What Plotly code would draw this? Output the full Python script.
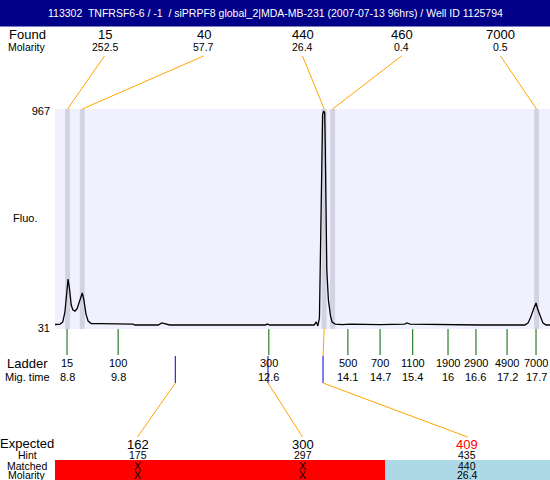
import plotly.graph_objects as go

# ---------------- data ----------------
title_text = "113302  TNFRSF6-6 / -1  / siPRPF8 global_2|MDA-MB-231 (2007-07-13 96hrs) / Well ID 1125794"

# electropherogram (migration time, fluorescence)
mig_time = [8.57, 8.67, 8.72, 8.76, 8.80, 8.82, 8.85, 8.88, 8.91, 8.95, 8.99, 9.03, 9.07, 9.09,
            9.12, 9.16, 9.20, 9.26, 9.43, 10.05, 10.09, 10.53, 10.60, 10.66, 10.75, 12.56, 12.60,
            12.65, 13.49, 13.53, 13.56, 13.59, 13.61, 13.63, 13.65, 13.67, 13.69, 13.70, 13.72,
            13.73, 13.76, 13.80, 13.83, 13.89, 14.02, 14.17, 14.74, 15.21, 15.25, 15.31, 16.64,
            17.49, 17.55, 17.60, 17.66, 17.70, 17.73, 17.79, 17.83, 17.89, 17.97]
fluo = [46, 48, 57, 100, 195, 242, 195, 130, 109, 104, 113, 143, 173, 182,
        152, 91, 61, 50, 50, 48, 44, 44, 53, 50, 44, 44, 48,
        44, 44, 57, 40, 74, 410, 670, 950, 967, 960, 820, 453,
        281, 152, 83, 57, 48, 46, 48, 46, 48, 53, 48, 44,
        44, 53, 78, 117, 139, 113, 74, 53, 44, 44]

y_ticks = [31, 967]

found_size = ["15", "40", "440", "460", "7000"]
found_molarity = ["252.5", "57.7", "26.4", "0.4", "0.5"]
found_time = [8.81, 9.09, 13.68, 13.84, 17.71]

ladder_size = ["15", "100", "300", "500", "700", "1100", "1900", "2900", "4900", "7000"]
ladder_time_label = ["8.8", "9.8", "12.6", "14.1", "14.7", "15.4", "16", "16.6", "17.2", "17.7"]
ladder_time = [8.80, 9.77, 12.63, 14.13, 14.74, 15.36, 16.03, 16.56, 17.15, 17.70]

expected_size = ["162", "300", "409"]
expected_time = [10.855, 12.614, 13.658]
hint = ["175", "297", "435"]
matched = ["X", "X", "440"]
matched_molarity = ["X", "X", "26.4"]
matched_ok = [False, False, True]
expected_color = ["black", "black", "red"]

# ---------------- layout helpers ----------------
XR = [8.572, 17.965]
YR = [26.7, 975.6]
W, H = 550, 480
ML, MR, MT, MB = 55, 0, 109, 151
PH = H - MT - MB
PW = W - ML - MR
FONT = "Liberation Sans, Arial, sans-serif"


def py(pix):  # pixel row -> paper y
    return (H - MB - pix) / PH


def px(pix):  # pixel column -> paper x
    return (pix - ML) / PW


def xd(frac):  # paper x -> data x (for connector lines)
    return XR[0] + frac * (XR[1] - XR[0])


fig = go.Figure()
fig.add_trace(go.Scatter(x=mig_time, y=fluo, mode="lines",
                         line=dict(color="black", width=1.3), hoverinfo="skip"))

shapes = []
ann = []


def txt(x, y, s, size, color="black", xref="paper"):
    ann.append(dict(xref=xref, yref="paper", x=x, y=y, text=s, showarrow=False,
                    xanchor="center", yanchor="middle", borderpad=0,
                    font=dict(size=size, family=FONT, color=color)))


# title bar
shapes.append(dict(type="rect", xref="paper", yref="paper", x0=px(0), x1=px(W),
                   y0=py(26.5), y1=py(0), fillcolor="#000088", line=dict(width=0), layer="above"))
txt(px(W / 2), py(13), title_text, 10.5, "white")

# peak bands
for t in found_time:
    shapes.append(dict(type="rect", xref="x", yref="paper", x0=t - 0.047, x1=t + 0.047,
                       y0=0, y1=1, fillcolor="#D3D3E3", line=dict(width=0), layer="below"))

# found labels + connectors
txt(px(27), py(34), "Found", 13)
txt(px(27), py(47), "Molarity", 10.5)
n = len(found_size)
for i in range(n):
    f = (2 * i + 1) / (2 * n)
    txt(f, py(34), found_size[i], 13)
    txt(f, py(47), found_molarity[i], 10.5)
    shapes.append(dict(type="line", xref="x", yref="paper", x0=xd(f), y0=py(56),
                       x1=found_time[i], y1=py(109), line=dict(color="orange", width=1)))

# y label
txt(px(25), py(218), "Fluo.", 11)

# ladder
txt(px(27), py(363), "Ladder", 13)
txt(px(27), py(377), "Mig. time", 11)
for s, tl, t in zip(ladder_size, ladder_time_label, ladder_time):
    shapes.append(dict(type="line", xref="x", yref="paper", x0=t, x1=t, y0=py(329), y1=py(355),
                       line=dict(color="#006400", width=1)))
    txt(t, py(363), s, 11, xref="x")
    txt(t, py(377), tl, 11, xref="x")

# expected section
txt(px(27), py(443), "Expected", 13)
txt(px(27), py(455), "Hint", 10.5)
txt(px(27), py(465.5), "Matched", 10.5)
txt(px(27), py(475), "Molarity", 10.5)
m = len(expected_size)
for i in range(m):
    f0, f1 = i / m, (i + 1) / m
    fc = (f0 + f1) / 2
    shapes.append(dict(type="rect", xref="paper", yref="paper", x0=f0, x1=f1,
                       y0=py(480), y1=py(460),
                       fillcolor="lightblue" if matched_ok[i] else "red",
                       line=dict(width=0), layer="below"))
    t = expected_time[i]
    shapes.append(dict(type="line", xref="x", yref="paper", x0=t, x1=t, y0=py(356), y1=py(383),
                       line=dict(color="#0000DD", width=1)))
    shapes.append(dict(type="line", xref="x", yref="paper", x0=t, y0=py(383), x1=xd(fc), y1=py(437),
                       line=dict(color="orange", width=1)))
    txt(fc, py(444), expected_size[i], 13, expected_color[i])
    txt(fc, py(455), hint[i], 10.5)
    txt(fc, py(465.5), matched[i], 10.5)
    txt(fc, py(475), matched_molarity[i], 10.5)

# connector from matched found peak down to its expected line
for i in range(m):
    if matched_ok[i]:
        k = found_size.index(matched[i])
        shapes.append(dict(type="line", xref="x", yref="paper", x0=found_time[k], y0=py(329),
                           x1=expected_time[i], y1=py(356), line=dict(color="orange", width=1)))

fig.update_layout(
    width=W, height=H,
    margin=dict(l=ML, r=MR, t=MT, b=MB, pad=0),
    paper_bgcolor="white", plot_bgcolor="#F0F0FF",
    showlegend=False,
    shapes=shapes, annotations=ann,
    xaxis=dict(range=XR, showgrid=False, zeroline=False, showticklabels=False, ticks="",
               showline=False, fixedrange=True),
    yaxis=dict(range=YR, showgrid=False, zeroline=False, tickvals=y_ticks,
               ticktext=[str(v) for v in y_ticks], ticks="", showline=False,
               ticklabelstandoff=4,
               tickfont=dict(size=11, family=FONT, color="black"), fixedrange=True),
    font=dict(family=FONT),
)

fig.write_html("out.html", config={"displayModeBar": False},
               post_script="document.body.style.margin='0px';document.body.style.overflow='hidden';")
